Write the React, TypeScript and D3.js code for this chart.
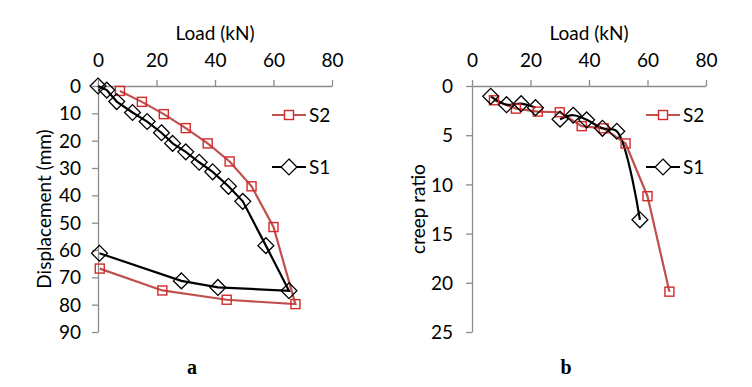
import React, { useRef, useEffect } from "react";
import * as d3 from "d3";

// panel a: load vs displacement
const loadTicks = [0, 20, 40, 60, 80];
const dispTicks = [0, 10, 20, 30, 40, 50, 60, 70, 80, 90];
const creepTicks = [0, 5, 10, 15, 20, 25];

const aS2Load = [7.5, 15, 22.5, 30, 37.5, 45, 52.5, 60, 67.5, 44, 22, 0.6];
const aS2Disp = [1.8, 5.8, 10.3, 15.4, 21.0, 27.6, 36.7, 51.6, 79.8, 78.2, 74.8, 66.8];
const aS1Load = [0, 3, 6.4, 11.8, 16.8, 21.7, 25.5, 30, 34.6, 39.2, 44.6, 49.5, 57.4, 65.3, 41, 28.5, 0.5];
const aS1Disp = [0, 1.5, 5.7, 9.7, 13, 17.1, 21, 24.1, 27.9, 31.4, 36.7, 42.2, 58.4, 74.9, 73.7, 71.3, 61.2];

// panel b: load vs creep ratio
const bS2Load = [7.5, 15, 22.5, 30, 37.5, 45, 52.5, 60, 67.5];
const bS2Creep = [1.45, 2.3, 2.6, 2.67, 4.08, 4.3, 5.84, 11.2, 20.9];
const bS1Load = [6.4, 11.8, 16.8, 21.7, 30.1, 34.6, 39.2, 44.6, 49.5, 57.4];
const bS1Creep = [1.05, 1.9, 1.8, 2.2, 3.37, 2.97, 3.44, 4.3, 4.6, 13.6];
// the black line is broken between these two runs
const bS1Runs = [[0, 4], [4, 10]];

const RED_LINE = "#c0504d";
const RED_MARK = "#d42a2a";
const FONT = "Lato, 'Open Sans', sans-serif";
const FS = 19;

const zip = (xs: number[], ys: number[]) => xs.map((x, i) => [x, ys[i]] as [number, number]);

const App = () => {
  const svgRef = useRef<SVGSVGElement>(null);

  useEffect(() => {
    const svg = d3.select(svgRef.current);
    svg.selectAll("*").remove();

    const drawPanel = (opts: any) => {
      const { x0, x1, y0, y1, yMax, yTicks, yTitle, yTitleX, labelRight, s2, s1Runs, s1, smoothS1, letter, legendX } = opts;
      const g = svg.append("g");
      const x = d3.scaleLinear().domain([0, 80]).range([x0, x1]);
      const y = d3.scaleLinear().domain([0, yMax]).range([y0, y1]);

      const xAxis = g.append("g").attr("transform", `translate(0,${y0})`)
        .call(d3.axisTop(x).tickValues(loadTicks).tickSize(6).tickSizeOuter(0));
      const yAxis = g.append("g").attr("transform", `translate(${x0},0)`)
        .call(d3.axisLeft(y).tickValues(yTicks).tickSize(6).tickSizeOuter(0));
      [xAxis, yAxis].forEach((ax) => {
        ax.select(".domain").attr("stroke", "#8c8c8c").attr("stroke-width", 1.3);
        ax.selectAll(".tick line").attr("stroke", "#8c8c8c").attr("stroke-width", 1.3);
        ax.selectAll("text").attr("font-family", FONT).attr("font-size", FS).attr("fill", "#000");
      });
      xAxis.selectAll("text").attr("dy", 0).attr("y", -19);
      yAxis.selectAll("text").attr("x", labelRight - x0).attr("dy", "0.35em");

      g.append("text").attr("x", (x0 + x1) / 2).attr("y", 40).attr("text-anchor", "middle")
        .attr("font-family", FONT).attr("font-size", FS).text("Load (kN)");
      g.append("text").attr("transform", `translate(${yTitleX},${(y0 + y1) / 2}) rotate(-90)`)
        .attr("text-anchor", "middle").attr("font-family", FONT).attr("font-size", FS).text(yTitle);

      const line = d3.line<[number, number]>().x((d) => x(d[0])).y((d) => y(d[1]));
      const smooth = d3.line<[number, number]>().x((d) => x(d[0])).y((d) => y(d[1]))
        .curve(d3.curveCatmullRom.alpha(0.5));

      // S2
      g.append("path").datum(s2).attr("d", line).attr("fill", "none")
        .attr("stroke", RED_LINE).attr("stroke-width", 2.2);
      // S1
      s1Runs.forEach(([a, b]: number[]) => {
        g.append("path").datum(s1.slice(a, b)).attr("d", smoothS1 ? smooth : line).attr("fill", "none")
          .attr("stroke", "#000").attr("stroke-width", 2.2);
      });

      const sq = 9;
      g.selectAll(".sq").data(s2).enter().append("rect")
        .attr("x", (d: any) => x(d[0]) - sq / 2).attr("y", (d: any) => y(d[1]) - sq / 2)
        .attr("width", sq).attr("height", sq).attr("fill", "none")
        .attr("stroke", RED_MARK).attr("stroke-width", 1.4);
      const diamond = d3.symbol().type(d3.symbolDiamond2).size(160);
      g.selectAll(".dm").data(s1).enter().append("path")
        .attr("transform", (d: any) => `translate(${x(d[0])},${y(d[1])})`)
        .attr("d", diamond).attr("fill", "none").attr("stroke", "#000").attr("stroke-width", 1.3);

      // legend
      const legend = [
        { name: "S2", yy: 115, color: RED_LINE, mark: "sq" },
        { name: "S1", yy: 167, color: "#000", mark: "dm" },
      ];
      legend.forEach((l) => {
        g.append("line").attr("x1", legendX).attr("x2", legendX + 34).attr("y1", l.yy).attr("y2", l.yy)
          .attr("stroke", l.color).attr("stroke-width", 2.2);
        if (l.mark === "sq") {
          g.append("rect").attr("x", legendX + 17 - sq / 2).attr("y", l.yy - sq / 2).attr("width", sq).attr("height", sq)
            .attr("fill", "#fff").attr("stroke", RED_MARK).attr("stroke-width", 1.4);
        } else {
          g.append("path").attr("transform", `translate(${legendX + 17},${l.yy})`).attr("d", diamond)
            .attr("fill", "#fff").attr("stroke", "#000").attr("stroke-width", 1.3);
        }
        g.append("text").attr("x", legendX + 37).attr("y", l.yy).attr("dy", "0.35em")
          .attr("font-family", FONT).attr("font-size", FS).text(l.name);
      });

      g.append("text").attr("x", (x0 + x1) / 2 - 23).attr("y", 374).attr("text-anchor", "middle")
        .attr("font-family", "'Liberation Serif', 'Times New Roman', serif").attr("font-weight", "bold")
        .attr("font-size", 20).text(letter);
    };

    drawPanel({
      x0: 98, x1: 332, y0: 86, y1: 332, yMax: 90, yTicks: dispTicks,
      yTitle: "Displacement (mm)", yTitleX: 51, labelRight: 81,
      s2: zip(aS2Load, aS2Disp), s1: zip(aS1Load, aS1Disp), s1Runs: [[0, aS1Load.length]],
      smoothS1: false, letter: "a", legendX: 272,
    });
    drawPanel({
      x0: 472, x1: 706, y0: 86, y1: 332, yMax: 25, yTicks: creepTicks,
      yTitle: "creep ratio", yTitleX: 425, labelRight: 453,
      s2: zip(bS2Load, bS2Creep), s1: zip(bS1Load, bS1Creep), s1Runs: bS1Runs,
      smoothS1: true, letter: "b", legendX: 646,
    });
  }, []);

  return (
    <svg ref={svgRef} width="752" height="387"
      style={{ position: "absolute", left: 0, top: 0, background: "#fff" }} />
  );
};

export default App;
